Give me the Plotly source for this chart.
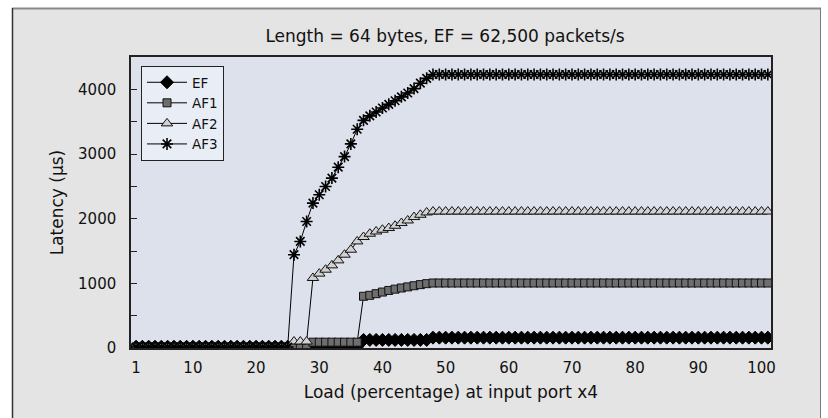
import plotly.graph_objects as go

# ---------------- data ----------------
load = list(range(1, 102))  # load (percentage) at input port x4

ef = [
    20, 20, 20, 20, 20, 20, 20, 20, 20, 20,
    20, 20, 20, 20, 20, 20, 20, 20, 20, 20,
    20, 20, 20, 20, 20, 20, 20, 20, 20, 20,
    20, 20, 20, 20, 20, 20,
    125, 125, 125, 125, 125, 125, 125, 125, 125, 125, 125,
    160, 160, 160, 160, 160, 160, 160, 160, 160, 160,
    160, 160, 160, 160, 160, 160, 160, 160, 160, 160,
    160, 160, 160, 160, 160, 160, 160, 160, 160, 160,
    160, 160, 160, 160, 160, 160, 160, 160, 160, 160,
    160, 160, 160, 160, 160, 160, 160, 160, 160, 160,
    160, 160, 160, 160,
]

af1 = [
    10, 10, 10, 10, 10, 10, 10, 10, 10, 10,
    10, 10, 10, 10, 10, 10, 10, 10, 10, 10,
    10, 10, 10, 10, 10, 10, 10, 10,
    90, 90, 90, 90, 90, 90, 90, 90,
    800, 815, 840, 865, 890, 910, 928, 945, 963, 980, 995,
    1005, 1005, 1005, 1005, 1005, 1005, 1005, 1005, 1005, 1005,
    1005, 1005, 1005, 1005, 1005, 1005, 1005, 1005, 1005, 1005,
    1005, 1005, 1005, 1005, 1005, 1005, 1005, 1005, 1005, 1005,
    1005, 1005, 1005, 1005, 1005, 1005, 1005, 1005, 1005, 1005,
    1005, 1005, 1005, 1005, 1005, 1005, 1005, 1005, 1005, 1005,
    1005, 1005, 1005, 1005,
]

af2 = [
    10, 10, 10, 10, 10, 10, 10, 10, 10, 10,
    10, 10, 10, 10, 10, 10, 10, 10, 10, 10,
    10, 10, 10, 10, 10,
    100, 100, 100,
    1083, 1150, 1211, 1278, 1355, 1443, 1520, 1648, 1716, 1767,
    1802, 1829, 1855, 1890, 1932, 1972, 2025, 2060, 2096,
    2110, 2110, 2110, 2110, 2110, 2110, 2110, 2110, 2110, 2110,
    2110, 2110, 2110, 2110, 2110, 2110, 2110, 2110, 2110, 2110,
    2110, 2110, 2110, 2110, 2110, 2110, 2110, 2110, 2110, 2110,
    2110, 2110, 2110, 2110, 2110, 2110, 2110, 2110, 2110, 2110,
    2110, 2110, 2110, 2110, 2110, 2110, 2110, 2110, 2110, 2110,
    2110, 2110, 2110, 2110,
]

af3 = [
    15, 15, 15, 15, 15, 15, 15, 15, 15, 15,
    15, 15, 15, 15, 15, 15, 15, 15, 15, 15,
    15, 15, 15, 15, 15,
    1443, 1648, 1957, 2241, 2369, 2497, 2627, 2796, 2960, 3156,
    3383, 3520, 3590, 3650, 3712, 3768, 3823, 3884, 3943, 4011,
    4095, 4170,
    4230, 4230, 4230, 4230, 4230, 4230, 4230, 4230, 4230, 4230,
    4230, 4230, 4230, 4230, 4230, 4230, 4230, 4230, 4230, 4230,
    4230, 4230, 4230, 4230, 4230, 4230, 4230, 4230, 4230, 4230,
    4230, 4230, 4230, 4230, 4230, 4230, 4230, 4230, 4230, 4230,
    4230, 4230, 4230, 4230, 4230, 4230, 4230, 4230, 4230, 4230,
    4230, 4230, 4230, 4230,
]

series_names = ["EF", "AF1", "AF2", "AF3"]
x_tick_vals = [1, 10, 20, 30, 40, 50, 60, 70, 80, 90, 100]
y_tick_vals = [0, 500, 1000, 1500, 2000, 2500, 3000, 3500, 4000]
y_tick_text = ["0", "", "1000", "", "2000", "", "3000", "", "4000"]

title_text = "Length = 64 bytes, EF = 62,500 packets/s"
x_title = "Load (percentage) at input port x4"
y_title = "Latency (µs)"

# ---------------- styles ----------------
FONT = "DejaVu Sans"
styles = {
    "EF":  dict(symbol="diamond", size=10, color="#000000", line=dict(color="#000000", width=1)),
    "AF1": dict(symbol="square", size=8, color="#6e6e6e", line=dict(color="#111111", width=1)),
    "AF2": dict(symbol="triangle-up", size=10, color="#d2d2d2", line=dict(color="#111111", width=1)),
    "AF3": dict(symbol="asterisk-open", size=10, color="#000000", line=dict(color="#000000", width=1.6)),
}
values = {"EF": ef, "AF1": af1, "AF2": af2, "AF3": af3}

fig = go.Figure()
for name in series_names:
    fig.add_trace(go.Scatter(
        x=load, y=values[name], name=name, mode="lines+markers",
        line=dict(color="#000000", width=1),
        marker=styles[name], cliponaxis=True,
    ))

W, H = 828, 418
ML, MR, MT, MB = 131, 57, 57, 70
PW, PH = W - ML - MR, H - MT - MB

def px_x(p):
    return (p - ML) / PW

def px_y(p):
    return (H - MB - p) / PH

shapes = [
    dict(type="rect", xref="paper", yref="paper", layer="below",
         x0=px_x(12), x1=px_x(821), y0=px_y(440), y1=px_y(8.5),
         fillcolor="#e4e4e4", line=dict(width=0)),
    dict(type="line", xref="paper", yref="paper", layer="below",
         x0=px_x(12), x1=px_x(821), y0=px_y(8.5), y1=px_y(8.5),
         line=dict(color="#8a8a8a", width=2)),
    dict(type="line", xref="paper", yref="paper", layer="below",
         x0=px_x(12.5), x1=px_x(12.5), y0=px_y(440), y1=px_y(8),
         line=dict(color="#333333", width=1.5)),
    dict(type="line", xref="paper", yref="paper", layer="below",
         x0=px_x(820.5), x1=px_x(820.5), y0=px_y(440), y1=px_y(8),
         line=dict(color="#7a7a7a", width=1)),
    dict(type="rect", xref="paper", yref="paper", layer="below",
         x0=0, x1=1, y0=0, y1=1, fillcolor="#dce1ec", line=dict(width=0)),
]

fig.update_layout(
    width=W, height=H,
    margin=dict(l=ML, r=MR, t=MT, b=MB, pad=0),
    paper_bgcolor="#ffffff", plot_bgcolor="rgba(0,0,0,0)",
    font=dict(family=FONT, size=15, color="#111111"),
    title=dict(text=title_text, x=px_x(445), xref="paper", xanchor="center",
               y=1 - 36 / H, yref="container", yanchor="middle",
               font=dict(family=FONT, size=17, color="#111111")),
    showlegend=True,
    legend=dict(x=px_x(141), y=px_y(66), xanchor="left", yanchor="top",
                bgcolor="#e9edf5", bordercolor="#222222", borderwidth=1,
                font=dict(family=FONT, size=13.5, color="#111111"),
                tracegroupgap=0, itemwidth=40),
    shapes=shapes,
)
fig.update_xaxes(
    range=[0.2, 101.5], tickmode="array", tickvals=x_tick_vals,
    ticks="", showgrid=False, zeroline=False,
    showline=True, linecolor="#222222", linewidth=1.5, mirror=True,
    ticklabelstandoff=5, tickfont=dict(family=FONT, size=15),
    title=dict(text=x_title, standoff=10, font=dict(family=FONT, size=17)),
)
fig.update_yaxes(
    range=[0, 4500], tickmode="array", tickvals=y_tick_vals, ticktext=y_tick_text,
    ticks="inside", ticklen=6, tickwidth=1, tickcolor="#222222",
    showgrid=False, zeroline=False,
    showline=True, linecolor="#222222", linewidth=1.5, mirror=True,
    ticklabelstandoff=10, tickfont=dict(family=FONT, size=15),
    title=dict(text=y_title, standoff=10, font=dict(family=FONT, size=17)),
)

fig.write_html("out.html", config={"displayModeBar": False},
               post_script="document.body.style.margin='0';")
